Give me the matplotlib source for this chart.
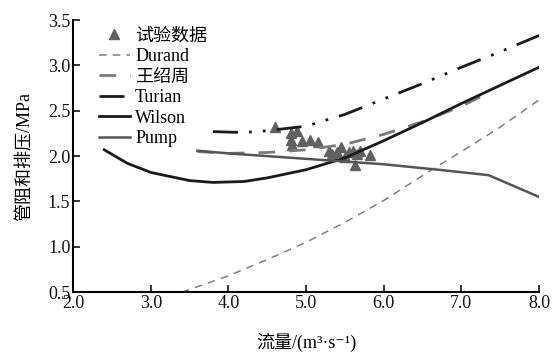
import matplotlib
matplotlib.use("Agg")
import matplotlib.pyplot as plt

plt.rcParams['font.family'] = ['Liberation Serif', 'Noto Sans CJK SC', 'DejaVu Serif']

# 试验数据
exp_x = [4.60, 4.80, 4.80, 4.82, 4.88, 4.95, 5.05, 5.15, 5.30, 5.33, 5.40,
         5.45, 5.50, 5.55, 5.60, 5.65, 5.63, 5.70, 5.82]
exp_y = [2.32, 2.25, 2.18, 2.12, 2.28, 2.17, 2.18, 2.16, 2.06, 2.02, 2.05,
         2.10, 1.99, 2.05, 2.06, 2.02, 1.90, 2.06, 2.01]

durand_x = [3.4, 4.0, 4.5, 5.0, 5.5, 6.0, 6.6, 7.0, 7.5, 8.0]
durand_y = [0.50, 0.68, 0.86, 1.05, 1.27, 1.51, 1.84, 2.05, 2.32, 2.62]

wang_x = [3.6, 4.0, 4.5, 5.0, 5.5, 6.0, 6.5, 7.0, 7.4]
wang_y = [2.05, 2.03, 2.04, 2.07, 2.13, 2.24, 2.38, 2.55, 2.72]

turian_x = [3.8, 4.2, 4.5, 5.0, 5.5, 6.0, 6.5, 7.0, 7.5, 8.0]
turian_y = [2.27, 2.26, 2.28, 2.33, 2.46, 2.63, 2.80, 2.98, 3.15, 3.33]

wilson_x = [2.4, 2.7, 3.0, 3.5, 3.8, 4.2, 4.5, 5.0, 5.5, 6.0, 6.5, 7.0, 7.5, 8.0]
wilson_y = [2.07, 1.92, 1.82, 1.73, 1.71, 1.72, 1.76, 1.85, 1.98, 2.17, 2.37, 2.58, 2.78, 2.98]

pump_x = [3.6, 4.0, 5.0, 6.0, 6.7, 7.35, 8.0]
pump_y = [2.06, 2.03, 1.97, 1.91, 1.85, 1.79, 1.55]

fig = plt.figure(figsize=(5.54, 3.52), dpi=100)
ax = fig.add_axes([0.132, 0.170, 0.841, 0.773])

ax.plot(exp_x, exp_y, '^', color='#606060', ms=7, label='试验数据')
ax.plot(durand_x, durand_y, color='#7f7f7f', lw=1.1, dashes=(5, 4), label='Durand')
ax.plot(wang_x, wang_y, color='#7a7a7a', lw=2.0, dashes=(6, 5), label='王绍周')
ax.plot(turian_x, turian_y, color='#1a1a1a', lw=2.0, dashes=(9, 4, 1, 4, 1, 4), label='Turian')
ax.plot(wilson_x, wilson_y, color='#1a1a1a', lw=2.0, label='Wilson')
ax.plot(pump_x, pump_y, color='#555555', lw=1.8, label='Pump')

ax.set_xlim(2.0, 8.0)
ax.set_ylim(0.5, 3.5)
ax.set_xticks([2, 3, 4, 5, 6, 7, 8])
ax.set_xticklabels(['2.0', '3.0', '4.0', '5.0', '6.0', '7.0', '8.0'])
ax.set_yticks([0.5, 1.0, 1.5, 2.0, 2.5, 3.0, 3.5])
ax.set_yticklabels(['0.5', '1.0', '1.5', '2.0', '2.5', '3.0', '3.5'])
ax.tick_params(direction='in', length=5, width=1.2, labelsize=13, colors='#111111', pad=2)
ax.spines['top'].set_visible(False)
ax.spines['right'].set_visible(False)
for s in ['left', 'bottom']:
    ax.spines[s].set_linewidth(1.5)

ax.set_xlabel('流量/(m³·s⁻¹)', fontsize=13, labelpad=15)
ax.set_ylabel('管阻和排压/MPa', fontsize=13, labelpad=10)

ax.legend(loc='upper left', bbox_to_anchor=(0.04, 1.0), frameon=False,
          fontsize=13, handlelength=1.7, handletextpad=0.3, labelspacing=0.2,
          borderaxespad=0)

fig.savefig('out.png', dpi=100)
